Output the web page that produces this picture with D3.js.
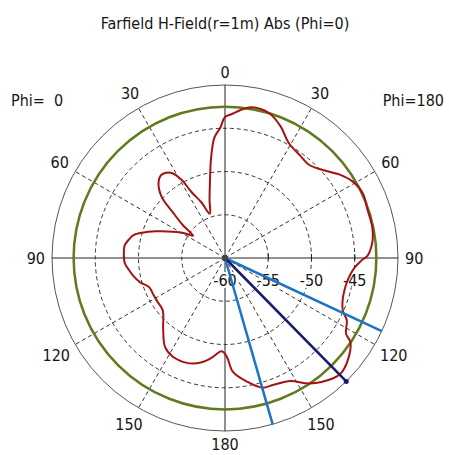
<!DOCTYPE html>
<html>
<head>
<meta charset="utf-8">
<script src="https://cdn.jsdelivr.net/npm/d3@7"></script>
<style>
  body { margin: 0; background: #fff; }
  text { font-family: "DejaVu Sans Condensed", "DejaVu Sans", sans-serif; font-stretch: condensed; fill: #151515; }
</style>
</head>
<body>
<div id="container"></div>
<script>
// display angle (deg, clockwise from top) and field value (dB)
var angles = [0, 3, 6, 10, 17, 23, 29, 36, 42, 48, 54, 59, 65, 71, 78, 83, 89, 91, 95, 105,
  114, 117, 122, 124, 130, 135, 138, 146, 152, 159, 164, 170, 176, 179, 182, 188, 193, 200,
  208, 214, 221, 230, 238, 243, 249, 254, 259, 263, 267, 272, 277, 281, 284, 287, 291, 297,
  301, 305, 308, 311, 314, 319, 323, 328, 331, 333, 337, 341, 345, 349, 352, 355, 358];
var values = [-43.7, -43.3, -42.8, -42.3, -42.5, -43.5, -44.8, -45.3, -45.5, -44.8, -43.6, -42.8, -42.4, -42.6, -42.6, -42.8, -43.5, -44.2, -45.1, -45.7,
  -45.1, -44.2, -43.5, -42.5, -41.5, -41.1, -41.3, -42.5, -43.9, -44.3, -44.4, -45.5, -46.8, -48.6, -49.2, -48.3, -47.6, -47.1,
  -47.1, -47.6, -49.1, -50.6, -50.7, -50.7, -50.6, -49.8, -49.2, -48.8, -48.4, -48.3, -48.3, -48.7, -49.1, -50.0, -51.4, -53.3,
  -54.4, -55.5, -53.8, -52.1, -49.8, -48.3, -47.9, -48.4, -49.7, -51.4, -53.0, -54.6, -53.1, -50.9, -48.4, -46.0, -44.9];

var ringTicks = [-60, -55, -50, -45];
var angleTicks = [0, 30, 60, 90, 120, 150, 180, 210, 240, 270, 300, 330];
var angleLabels = ["0", "30", "60", "90", "120", "150", "180", "150", "120", "90", "60", "30"];

var refLevel = -42.5;          // green circle
var mainDir = 135.5;           // main lobe direction
var beamDirs = [115, 164];     // beam width lines

var width = 449, height = 455;
var cx = 225, cy = 258, R = 173;

var svg = d3.select("#container").append("svg")
    .attr("width", width)
    .attr("height", height);

var r = d3.scaleLinear().domain([-60, -40]).range([0, R]);
var rad = function(a) { return a * Math.PI / 180; };
var px = function(a, rr) { return cx + rr * Math.sin(rad(a)); };
var py = function(a, rr) { return cy - rr * Math.cos(rad(a)); };

var g = svg.append("g");

// dashed rings
g.selectAll(".ring")
    .data(ringTicks.slice(1))
    .enter().append("circle")
    .attr("cx", cx).attr("cy", cy)
    .attr("r", d => r(d))
    .attr("fill", "none")
    .attr("stroke", "#333")
    .attr("stroke-dasharray", "4,3");

// dashed spokes
g.selectAll(".spoke")
    .data(angleTicks.filter(a => a % 90 != 0))
    .enter().append("line")
    .attr("x1", cx).attr("y1", cy)
    .attr("x2", d => px(d, R)).attr("y2", d => py(d, R))
    .attr("stroke", "#333")
    .attr("stroke-dasharray", "4,3");

// outer circle
g.append("circle")
    .attr("cx", cx).attr("cy", cy).attr("r", R)
    .attr("fill", "none").attr("stroke", "#555").attr("stroke-width", 1);

// solid axes
g.append("line").attr("x1", cx - R).attr("x2", cx + R).attr("y1", cy).attr("y2", cy)
    .attr("stroke", "#222");
g.append("line").attr("x1", cx).attr("x2", cx).attr("y1", cy - R).attr("y2", cy + R)
    .attr("stroke", "#222");

// small ring ticks on the axis
g.selectAll(".rtick")
    .data(ringTicks.slice(1))
    .enter().append("line")
    .attr("x1", d => cx + r(d)).attr("x2", d => cx + r(d))
    .attr("y1", cy - 4).attr("y2", cy + 2)
    .attr("stroke", "#222");

// ring labels (white halo hides the grid behind them)
g.selectAll(".rlab")
    .data(ringTicks)
    .enter().append("text")
    .attr("x", d => cx + r(d))
    .attr("y", cy + 22)
    .attr("text-anchor", "middle")
    .attr("dominant-baseline", "central")
    .style("font-size", "16px")
    .style("stroke", "#fff")
    .style("stroke-width", 4)
    .style("paint-order", "stroke")
    .text(d => d);

// green reference circle
g.append("circle")
    .attr("cx", cx).attr("cy", cy).attr("r", r(refLevel))
    .attr("fill", "none").attr("stroke", "#5f7a1f").attr("stroke-width", 2.5);

// pattern
var pts = angles.map((a, i) => [rad(a), r(values[i])]);
var line = d3.lineRadial().curve(d3.curveCatmullRomClosed.alpha(0.5));
g.append("path")
    .attr("transform", "translate(" + cx + "," + cy + ")")
    .attr("d", line(pts))
    .attr("fill", "none")
    .attr("stroke", "#a51212")
    .attr("stroke-width", 2);

// beam lines
g.selectAll(".beam")
    .data(beamDirs)
    .enter().append("line")
    .attr("x1", cx).attr("y1", cy)
    .attr("x2", d => px(d, R)).attr("y2", d => py(d, R))
    .attr("stroke", "#1c74c6").attr("stroke-width", 2.5);

g.append("line")
    .attr("x1", cx).attr("y1", cy)
    .attr("x2", px(mainDir, R)).attr("y2", py(mainDir, R))
    .attr("stroke", "#1a1a6c").attr("stroke-width", 2.5);
g.append("circle").attr("cx", px(mainDir, R)).attr("cy", py(mainDir, R)).attr("r", 2.5)
    .attr("fill", "#1a1a6c");
g.append("circle").attr("cx", cx).attr("cy", cy).attr("r", 3).attr("fill", "#444");

// angle labels, pushed out by their box size
g.selectAll(".alab")
    .data(angleTicks)
    .enter().append("text")
    .attr("text-anchor", "middle")
    .attr("dominant-baseline", "central")
    .style("font-size", "16px")
    .text((d, i) => angleLabels[i])
    .each(function(d) {
        var b = this.getBBox();
        var off = 180 + Math.abs(Math.sin(rad(d))) * b.width / 2 + Math.abs(Math.cos(rad(d))) * 6;
        d3.select(this).attr("x", px(d, off)).attr("y", py(d, off));
    });

svg.append("text")
    .attr("x", 225).attr("y", 23)
    .attr("text-anchor", "middle")
    .attr("dominant-baseline", "central")
    .style("font-size", "16px")
    .text("Farfield H-Field(r=1m) Abs (Phi=0)");

svg.append("text").attr("x", 11).attr("y", 100)
    .attr("dominant-baseline", "central")
    .style("font-size", "16px")
    .attr("xml:space", "preserve")
    .style("white-space", "pre")
    .text("Phi=  0");

svg.append("text").attr("x", 444).attr("y", 100)
    .attr("text-anchor", "end")
    .attr("dominant-baseline", "central")
    .style("font-size", "16px")
    .text("Phi=180");
</script>
</body>
</html>
